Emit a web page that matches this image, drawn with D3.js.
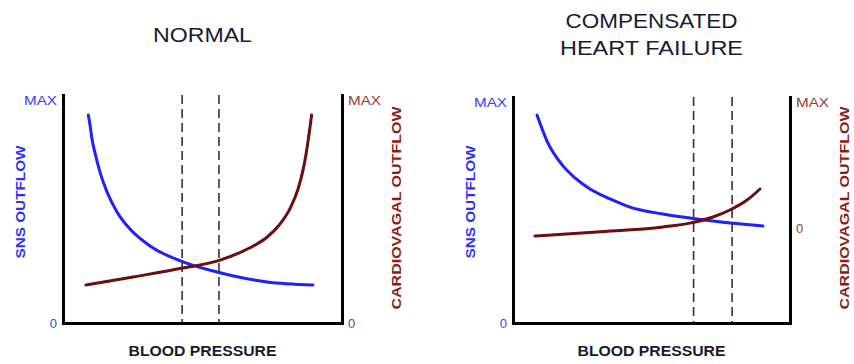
<!DOCTYPE html>
<html>
<head>
<meta charset="utf-8">
<script src="https://cdn.jsdelivr.net/npm/d3@7"></script>
<style>
  body { margin: 0; background: #fff; }
  text { font-family: "Liberation Sans", Arial, sans-serif; }
</style>
</head>
<body>
<div id="chart"></div>
<script>
// blood pressure on x (0..100), outflow on y (0..100 = MAX)
const normalTitle = ["NORMAL"];
const normalSns = [[9.07,91.2],[9.68,86.8],[10.39,80.7],[11.47,74.6],[13.26,66.2],[15.77,57.5],[19.35,48.7],[24.01,41.2],[31.18,33.8],[43.0,26.8],[55.2,22.4],[73.1,18.0],[89.6,16.7]];
const normalCardio = [[8.2,16.7],[25.1,20.2],[43.0,24.1],[56.3,27.6],[67.0,33.0],[73.0,37.5],[77.5,43.0],[81.5,50.5],[84.3,59.0],[86.3,68.6],[87.9,80.3],[89.1,91.2]];
const normalDashes = [42.7, 55.9];
const normalRightTicks = [0, 100];

const chfTitle = ["COMPENSATED", "HEART FAILURE"];
const chfSns = [[8.66,92.0],[12.27,80.5],[18.05,69.5],[22.38,64.2],[27.8,59.3],[35.02,54.9],[42.24,51.3],[54.15,48.2],[66.43,46.0],[78.34,44.2],[90.25,42.9]];
const chfCardio = [[7.9,38.5],[30.3,40.3],[54.2,42.5],[63.9,44.2],[72.2,46.9],[78.3,50.0],[84.5,54.4],[89.2,59.3]];
const chfDashes = [65.2, 79.1];
const chfRightTicks = [42, 100];

const leftTicks = [0, 100];
const tickName = v => v === 100 ? "MAX" : "0";

const width = 854, height = 364;
const svg = d3.select("#chart").append("svg")
    .attr("width", width)
    .attr("height", height);

const blue = "#1f1fff", brown = "#6a0e0e";

function drawPanel(opt) {
    const x = d3.scaleLinear().domain([0, 100]).range([opt.x0, opt.x1]);
    const y = d3.scaleLinear().domain([0, 100]).range([323, opt.top]);
    const g = svg.append("g");
    const cx = (opt.x0 + opt.x1) / 2;

    // title
    const t = g.append("text")
        .attr("text-anchor", "middle")
        .attr("font-size", 21)
        .attr("fill", "#1a1a33");
    opt.title.forEach((s, i) => {
        t.append("tspan")
            .attr("x", cx)
            .attr("y", opt.titleY + i * 27)
            .attr("textLength", opt.titleW[i])
            .attr("lengthAdjust", "spacingAndGlyphs")
            .text(s);
    });

    // dashed lines
    g.selectAll(".dash").data(opt.dashes).enter().append("line")
        .attr("x1", d => x(d)).attr("x2", d => x(d))
        .attr("y1", y(100)).attr("y2", y(0))
        .attr("stroke", "#333")
        .attr("stroke-width", 1.6)
        .attr("stroke-dasharray", "9,5");

    // axes
    const left = g.append("g")
        .attr("transform", `translate(${opt.x0},0)`)
        .call(d3.axisLeft(y).tickValues(leftTicks).tickFormat(tickName).tickSize(0).tickSizeOuter(0).tickPadding(6));
    const right = g.append("g")
        .attr("transform", `translate(${opt.x1},0)`)
        .call(d3.axisRight(y).tickValues(opt.rightTicks).tickFormat(tickName).tickSize(0).tickSizeOuter(0).tickPadding(6));
    const bottom = g.append("g")
        .attr("transform", "translate(0,323)")
        .call(d3.axisBottom(x).tickValues([]).tickSize(0).tickSizeOuter(0));

    [left, right, bottom].forEach(a => {
        a.select(".domain").attr("stroke", "#000").attr("stroke-width", 3).attr("stroke-linecap", "square");
        a.selectAll("text")
            .attr("font-family", "Liberation Sans, Arial, sans-serif")
            .attr("font-size", 13)
            .attr("dy", d => d === 100 ? "0.7em" : "0.35em")
            .filter(d => d === 100)
            .attr("textLength", 33).attr("lengthAdjust", "spacingAndGlyphs");
    });
    left.selectAll("text").attr("fill", "#3a3aff");
    right.selectAll("text").attr("fill", "#9a3a2a");

    // axis titles
    g.append("text")
        .attr("transform", `translate(${opt.x0 - 43},202) rotate(-90)`)
        .attr("text-anchor", "middle")
        .attr("dominant-baseline", "central")
        .attr("font-size", 13).attr("font-weight", "bold")
        .attr("fill", "#2e2eff")
        .attr("textLength", 113).attr("lengthAdjust", "spacingAndGlyphs")
        .text("SNS OUTFLOW");
    g.append("text")
        .attr("transform", `translate(${opt.x1 + 54},208) rotate(-90)`)
        .attr("text-anchor", "middle")
        .attr("dominant-baseline", "central")
        .attr("font-size", 13).attr("font-weight", "bold")
        .attr("fill", "#8a1c1c")
        .attr("textLength", 203).attr("lengthAdjust", "spacingAndGlyphs")
        .text("CARDIOVAGAL  OUTFLOW");
    g.append("text")
        .attr("x", cx).attr("y", 356)
        .attr("text-anchor", "middle")
        .attr("font-size", 14).attr("font-weight", "bold")
        .attr("fill", "#1a1a2e")
        .attr("textLength", 148).attr("lengthAdjust", "spacingAndGlyphs")
        .text("BLOOD PRESSURE");

    // curves
    const line = d3.line().x(d => x(d[0])).y(d => y(d[1])).curve(d3.curveMonotoneX);
    g.append("path").datum(opt.sns)
        .attr("d", line).attr("fill", "none")
        .attr("stroke", blue).attr("stroke-width", 3).attr("stroke-linecap", "round");
    g.append("path").datum(opt.cardio)
        .attr("d", line).attr("fill", "none")
        .attr("stroke", brown).attr("stroke-width", 3).attr("stroke-linecap", "round");
}

drawPanel({ x0: 63, x1: 342, top: 95, title: normalTitle, titleY: 42, titleW: [99],
    sns: normalSns, cardio: normalCardio, dashes: normalDashes, rightTicks: normalRightTicks });
drawPanel({ x0: 513, x1: 790, top: 97, title: chfTitle, titleY: 28, titleW: [172, 183],
    sns: chfSns, cardio: chfCardio, dashes: chfDashes, rightTicks: chfRightTicks });
</script>
</body>
</html>
